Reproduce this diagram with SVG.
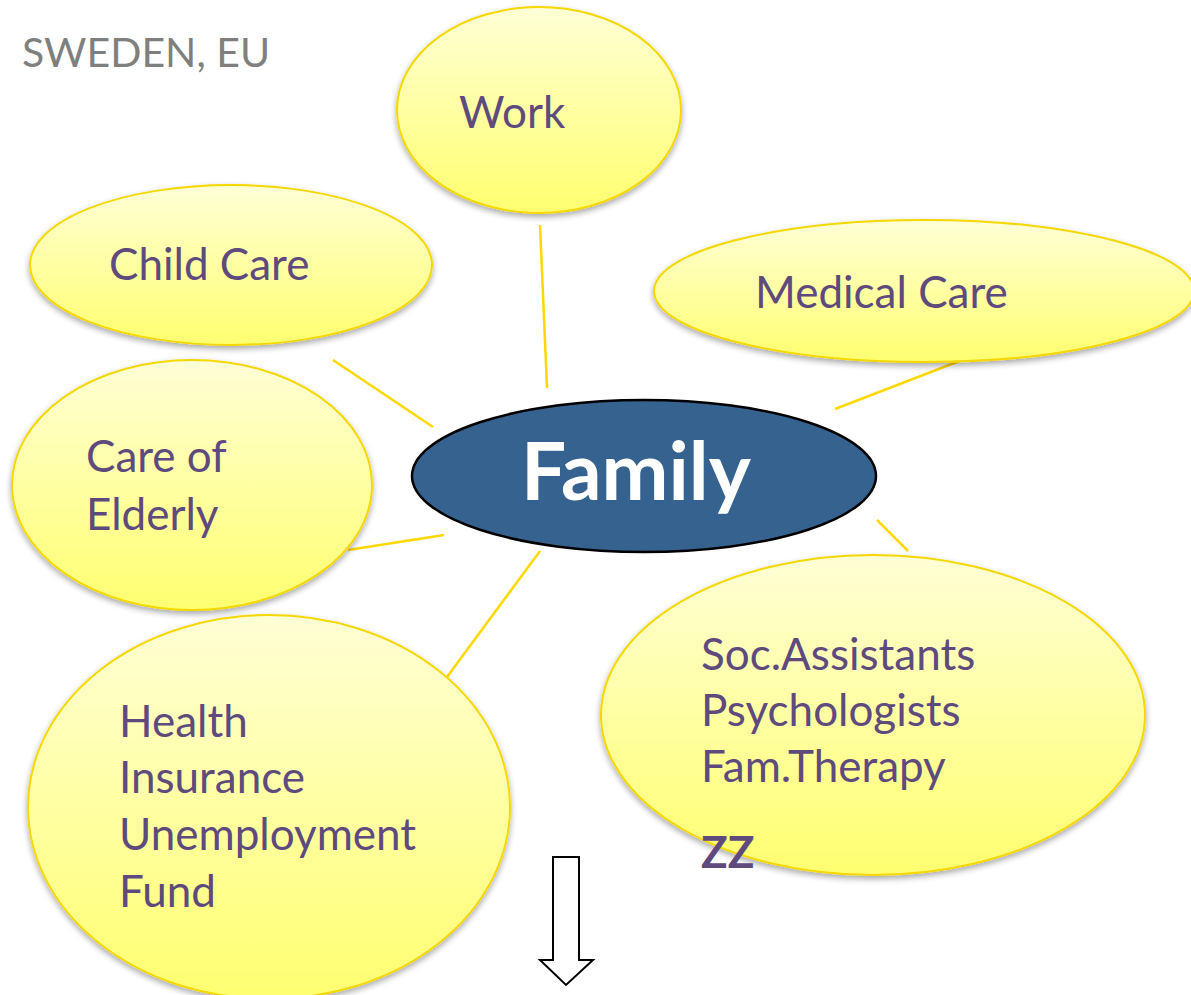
<svg xmlns="http://www.w3.org/2000/svg" width="1191" height="995" viewBox="0 0 1191 995">
<defs>
<linearGradient id="yg" x1="0" y1="0" x2="0" y2="1">
<stop offset="0" stop-color="#ffffd6"/>
<stop offset="1" stop-color="#ffff70"/>
</linearGradient>
<filter id="sh" x="-10%" y="-10%" width="120%" height="130%">
<feGaussianBlur in="SourceAlpha" stdDeviation="3"/>
<feOffset dx="0" dy="3" result="b"/>
<feComponentTransfer><feFuncA type="linear" slope="0.35"/></feComponentTransfer>
<feMerge><feMergeNode/><feMergeNode in="SourceGraphic"/></feMerge>
</filter>
</defs>
<style>
.y{fill:url(#yg);stroke:#f5d800;stroke-width:2;filter:url(#sh)}
.t{font-family:Lato,"Open Sans",sans-serif;font-size:44px;fill:#5e4a7c}
.c{stroke:#ffd800;stroke-width:2.5;fill:none}
</style>
<rect width="1191" height="995" fill="#ffffff"/>
<text x="22" y="67" font-family="Lato,'Open Sans',sans-serif" font-size="41" fill="#7f7f7f">SWEDEN, EU</text>
<g id="connectors">
<line class="c" x1="540" y1="225" x2="547" y2="388"/>
<line class="c" x1="333" y1="360" x2="433" y2="427"/>
<line class="c" x1="835" y1="409" x2="962" y2="360"/>
<line class="c" x1="348" y1="550" x2="444" y2="535"/>
<line class="c" x1="447" y1="677" x2="540" y2="551"/>
<line class="c" x1="877" y1="520" x2="908" y2="551"/>
</g>
<g id="work"><ellipse class="y" cx="539" cy="110" rx="142" ry="103"/><text class="t" x="459" y="128">Work</text></g>
<g id="childcare"><ellipse class="y" cx="231" cy="265" rx="201" ry="80"/><text class="t" x="109" y="280">Child Care</text></g>
<g id="medical"><ellipse class="y" cx="924" cy="291" rx="270" ry="71"/><text class="t" x="755" y="308">Medical Care</text></g>
<g id="elderly"><ellipse class="y" cx="192" cy="485" rx="180" ry="125"/><text class="t" x="86" y="472">Care of</text><text class="t" x="86" y="530">Elderly</text></g>
<g id="health"><ellipse class="y" cx="269" cy="807" rx="241" ry="192"/>
<text class="t" x="119" y="737">Health</text><text class="t" x="119" y="793">Insurance</text><text class="t" x="119" y="850">Unemployment</text><text class="t" x="119" y="907">Fund</text></g>
<g id="social"><ellipse class="y" cx="873" cy="715" rx="272" ry="160"/>
<text class="t" x="701" y="670">Soc.Assistants</text><text class="t" x="701" y="726">Psychologists</text><text class="t" x="701" y="782">Fam.Therapy</text>
<text class="t" x="701" y="868" font-weight="bold" font-size="48">ZZ</text></g>
<g id="family"><ellipse cx="644" cy="476" rx="232" ry="76" fill="#36628f" stroke="#000" stroke-width="2.5"/>
<text x="636" y="500" text-anchor="middle" font-family="Lato,'Open Sans',sans-serif" font-weight="bold" font-size="80" fill="#ffffff">Family</text></g>
<g id="arrow"><path d="M553,857 H579 V960 H593 L566,985 L540,960 H553 Z" fill="#fff" stroke="#000" stroke-width="2"/></g>
</svg>
